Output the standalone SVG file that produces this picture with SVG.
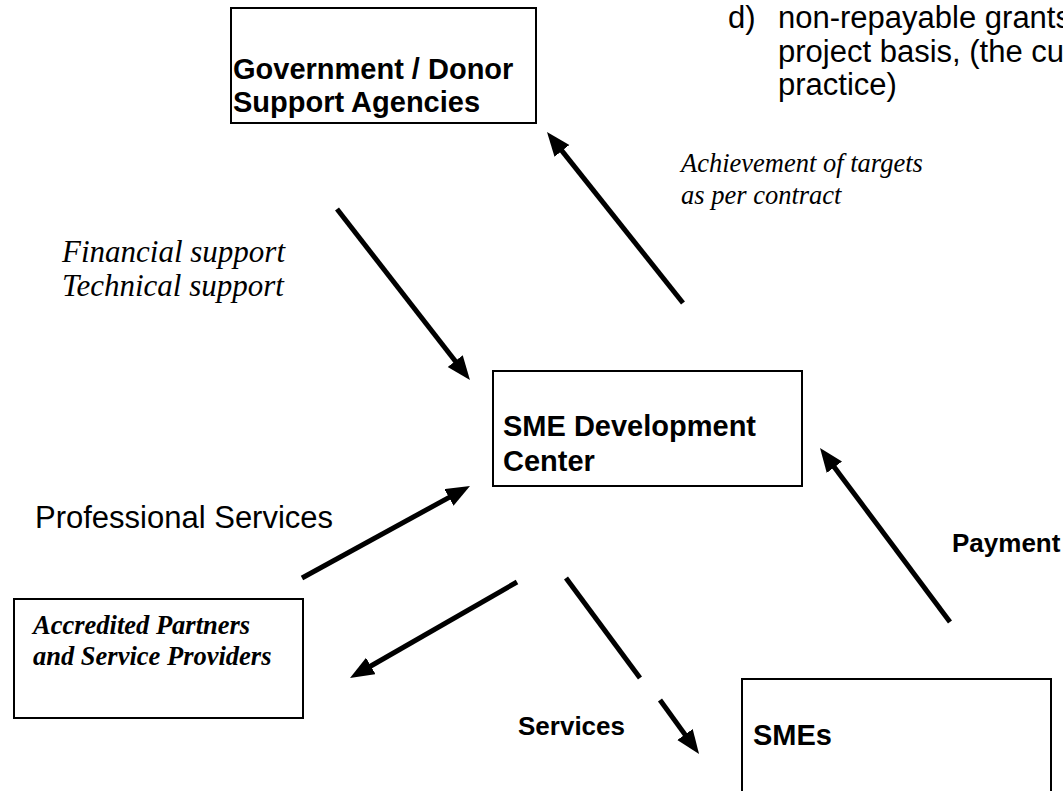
<svg xmlns="http://www.w3.org/2000/svg" width="1063" height="791" viewBox="0 0 1063 791">
<style>
.box{fill:#fff;stroke:#000;stroke-width:2}
.bt{font-family:"Liberation Sans",Arial,sans-serif;font-weight:bold;font-size:29px;fill:#000}
.lb{font-family:"Liberation Sans",Arial,sans-serif;font-weight:bold;font-size:26px;fill:#000}
.rt{font-family:"Liberation Sans",Arial,sans-serif;font-size:31px;fill:#000}
.it{font-family:"Liberation Serif","Times New Roman",serif;font-style:italic;fill:#000}
.bi{font-family:"Liberation Serif","Times New Roman",serif;font-style:italic;font-weight:bold;font-size:26.5px;fill:#000}
.ln{stroke:#000;stroke-width:5;fill:none}
.arr{marker-end:url(#ah)}
</style>
<defs>
<marker id="ah" markerUnits="userSpaceOnUse" markerWidth="26" markerHeight="20" refX="6" refY="9.5" orient="auto">
<path d="M0,0 L24,9.5 L0,19 z" fill="#000"/>
</marker>
</defs>
<rect width="1063" height="791" fill="#fff"/>

<g id="note">
<text class="rt" x="728" y="28">d)</text>
<text class="rt" x="778" y="28">non-repayable grants</text>
<text class="rt" x="778" y="62">project basis, (the cu</text>
<text class="rt" x="778" y="95">practice)</text>
</g>

<g id="gov">
<rect class="box" x="231" y="8" width="305" height="115"/>
<text class="bt" x="233" y="79">Government / Donor</text>
<text class="bt" x="233" y="112">Support Agencies</text>
</g>

<g id="smedc">
<rect class="box" x="493" y="371" width="309" height="115"/>
<text class="bt" x="503" y="436">SME Development</text>
<text class="bt" x="503" y="471">Center</text>
</g>

<g id="partners">
<rect class="box" x="14" y="599" width="289" height="119"/>
<text class="bi" x="33" y="634">Accredited Partners</text>
<text class="bi" x="33" y="665">and Service Providers</text>
</g>

<g id="smes">
<rect class="box" x="742" y="679" width="309" height="130"/>
<text class="bt" x="753" y="745">SMEs</text>
</g>

<g id="connectors">
<line class="ln arr" x1="337" y1="209" x2="458.9" y2="365.8"/>
<line class="ln arr" x1="683" y1="303" x2="558.2" y2="146.1"/>
<line class="ln arr" x1="302" y1="578" x2="454.2" y2="494.6"/>
<line class="ln arr" x1="517" y1="582" x2="365.6" y2="669"/>
<line class="ln" x1="566" y1="578" x2="640" y2="678"/>
<line class="ln arr" x1="660" y1="700" x2="688.5" y2="739.4"/>
<line class="ln arr" x1="950" y1="622" x2="830.8" y2="462.4"/>
</g>

<g id="labels">
<text class="it" font-size="26.5" x="681" y="172">Achievement of targets</text>
<text class="it" font-size="26.5" x="681" y="204">as per contract</text>
<text class="it" font-size="31" x="62" y="262">Financial support</text>
<text class="it" font-size="31" x="62" y="296">Technical support</text>
<text class="rt" font-size="29" x="35" y="528">Professional Services</text>
<text class="lb" x="952" y="552">Payment</text>
<text class="lb" x="518" y="735">Services</text>
</g>
</svg>
